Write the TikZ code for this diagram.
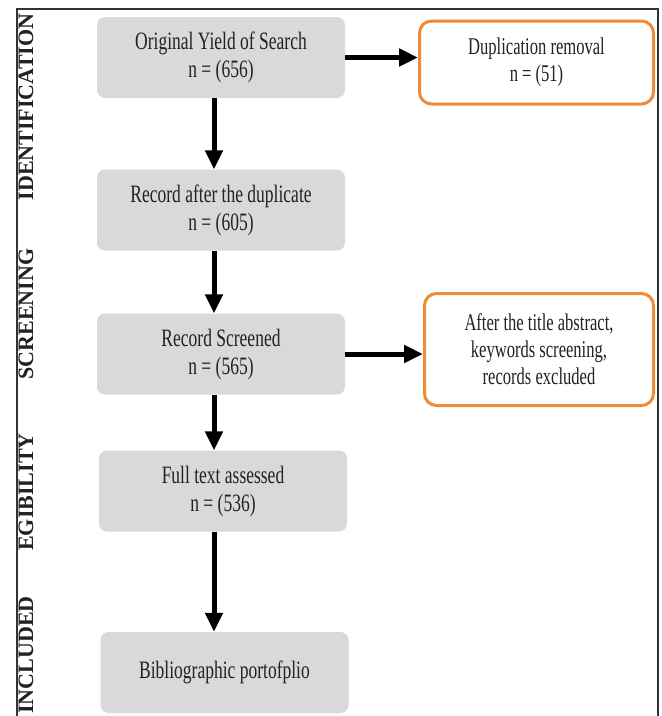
\documentclass[tikz,border=0pt]{standalone}
\usepackage{fontspec}
\setmainfont{Liberation Serif}
\newfontfamily\boxfont[FakeStretch=0.70]{Liberation Serif}
\newfontfamily\sidefont[FakeStretch=0.69]{Liberation Serif}
\usetikzlibrary{arrows.meta}
\definecolor{boxgray}{HTML}{D9D9D9}
\definecolor{frameorange}{HTML}{F08A35}
\definecolor{txt}{HTML}{222222}
\tikzset{
  graybox/.style={fill=boxgray, rounded corners=8pt, minimum width=248pt, minimum height=81pt,
    inner sep=0pt, align=center, text=txt, font=\boxfont\fontsize{25}{28}\selectfont},
  orangebox/.style={draw=frameorange, line width=3pt, fill=white, rounded corners=12pt,
    inner sep=0pt, align=center, text=txt, font=\sidefont\fontsize{24}{27}\selectfont},
  sidelabel/.style={rotate=90, inner sep=0pt, text=txt, font=\bfseries\fontsize{22}{26}\selectfont},
  flowarrow/.style={line width=5pt, -{Triangle[length=19pt,width=17pt]}},
  frameline/.style={draw=black!80, line width=1.5pt}
}
\begin{document}
\begin{tikzpicture}[x=1pt,y=-1pt]
\useasboundingbox (0,0) rectangle (662,716);
\fill[white] (0,0) rectangle (662,716);
% frame
\draw[frameline] (17,716) -- (17,9) -- (658,9) -- (658,716);
% side labels
\node[sidelabel] (lid) at (26,107) {IDENTIFICATION};
\node[sidelabel] (lsc) at (26,314) {SCREENING};
\node[sidelabel] (leg) at (26,492) {EGIBILITY};
\node[sidelabel] (lin) at (26,655) {INCLUDED};
% main boxes
\node[graybox] (b1) at (221,57.5) {Original Yield of Search\\n = (656)};
\node[graybox] (b2) at (221,210) {Record after the duplicate\\n = (605)};
\node[graybox] (b3) at (221,354) {Record Screened\\n = (565)};
\node[graybox] (b4) at (223,491) {Full text assessed\\n = (536)};
\node[graybox] (b5) at (224.5,672.5) {Bibliographic portofplio};
% side boxes
\node[orangebox, minimum width=234pt, minimum height=83pt] (d1) at (536.5,62.5) {Duplication removal\\n = (51)};
\node[orangebox, minimum width=229pt, minimum height=112pt] (d2) at (539,349.5) {After the title abstract,\\keywords screening,\\records excluded};
% arrows
\coordinate (col) at (214,0);
\draw[flowarrow] (b1.south -| col) -- (b2.north -| col);
\draw[flowarrow] (b2.south -| col) -- (b3.north -| col);
\draw[flowarrow] (b3.south -| col) -- (b4.north -| col);
\draw[flowarrow] (b4.south -| col) -- (b5.north -| col);
\draw[flowarrow] (b1.east) -- (b1.east -| d1.west);
\draw[flowarrow] (b3.east) -- (b3.east -| d2.west);
\end{tikzpicture}
\end{document}
